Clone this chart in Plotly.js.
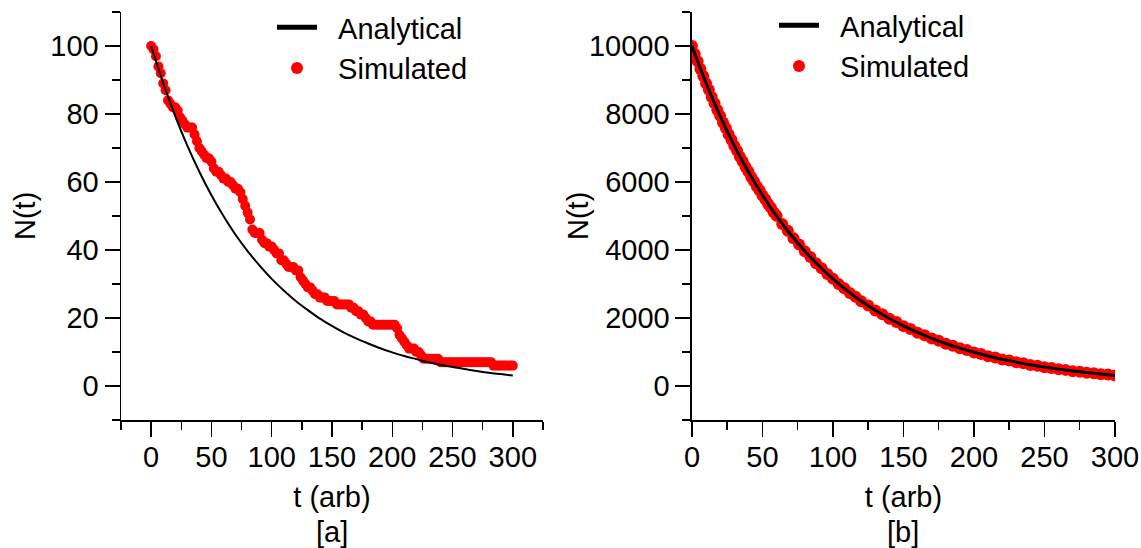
<!DOCTYPE html>
<html>
<head>
<meta charset="utf-8">
<script src="https://cdn.plot.ly/plotly-3.0.1.min.js"></script>
<style>html,body{margin:0;padding:0;background:#fff;}#chart{width:1141px;height:548px;}</style>
</head>
<body>
<div id="chart"></div>
<script>
// ---- Panel [a] data (N0 = 100) ----
var tAnalyticA = [0,10,20,30,40,50,60,70,80,90,100,110,120,130,140,150,160,170,180,190,200,210,220,230,240,250,260,270,280,290,300];
var nAnalyticA = [100,89.1,79.4,70.7,63.0,56.1,50.0,44.5,39.7,35.4,31.5,28.1,25.0,22.3,19.8,17.7,15.7,14.0,12.5,11.1,9.9,8.8,7.9,7.0,6.25,5.6,5.0,4.4,3.9,3.5,3.1];

var tSimA = [0,2,4,6,8,10,12,14,16,18,20,22,24,26,28,30,32,34,36,38,40,42,44,46,48,50,52,54,56,58,
  60,62,64,66,68,70,72,74,76,78,80,82,84,86,88,90,92,94,96,98,100,102,104,106,108,110,112,114,116,118,
  120,122,124,126,128,130,132,134,136,138,140,142,144,146,148,150,152,154,156,158,160,162,164,166,168,170,172,174,176,178,
  180,182,184,186,188,190,192,194,196,198,200,202,204,206,208,210,212,214,216,218,220,222,224,226,228,230,232,234,236,238,
  240,242,244,246,248,250,252,254,256,258,260,262,264,266,268,270,272,274,276,278,280,282,284,286,288,290,292,294,296,298,300];
var nSimA = [100,99,97,94,92,89,87,84,83,82,
  82,81,79,78,77,76,76,76,74,72,
  70,69,68,67,67,66,64,63,63,62,
  61,61,60,60,59,58,58,57,55,53,
  51,49,46,45,45,45,43,42,42,41,
  41,40,39,39,37,37,36,35,35,35,
  34,34,32,31,30,29,29,28,27,27,
  26,26,26,25,25,25,25,24,24,24,
  24,24,24,23,23,22,22,21,21,20,
  19,19,18,18,18,18,18,18,18,18,
  18,18,17,15,14,13,12,11,11,11,
  10,10,9,8,8,8,8,8,8,8,
  7,7,7,7,7,7,7,7,7,7,
  7,7,7,7,7,7,7,7,7,7,
  7,7,6,6,6,6,6,6,6,6,
  6];

// ---- Panel [b] data (N0 = 10000) ----
var tAnalyticB = [0,10,20,30,40,50,60,70,80,90,100,110,120,130,140,150,160,170,180,190,200,210,220,230,240,250,260,270,280,290,300];
var nAnalyticB = [10000,8909,7937,7071,6300,5612,5000,4454,3969,3536,3150,2806,2500,2227,1984,1768,1575,1403,1250,1114,992,884,787,702,625,557,496,442,394,351,312];

var tSimB = [0,2,4,6,8,10,12,14,16,18,20,22,24,26,28,30,32,34,36,38,40,42,44,46,48,50,52,54,56,58,60,
  64,68,72,76,80,84,88,92,96,100,104,108,112,116,120,
  125,130,135,140,145,150,155,160,165,170,175,180,185,190,195,200,205,210,215,220,225,230,235,240,245,250,255,260,265,270,275,280,285,290,295,300];
var nSimB = [10000,9768,9551,9322,9120,8901,8712,8499,8318,8115,7945,7748,7585,7398,7242,7063,6917,6744,6604,6439,6307,6149,6021,5871,5749,5605,5490,5352,5242,5110,5006,
  4767,4565,4346,4162,3962,3795,3611,3461,3292,3156,3001,2878,2736,2624,2494,
  2366,2220,2108,1977,1879,1761,1675,1568,1493,1396,1330,1243,1186,1107,1057,985,942,877,840,781,749,696,668,619,596,551,532,490,474,437,422,389,377,346,336,307];

var FONT = 'Liberation Sans, Arial, sans-serif';
var FS = 29;
var RED = '#ff0000';
var GAP = '\u00A0\u00A0';

var traces = [
  {x: tSimA, y: nSimA, type: 'scatter', mode: 'markers', name: GAP + 'Simulated',
   marker: {color: RED, size: 10}, xaxis: 'x', yaxis: 'y', legend: 'legend', legendrank: 2},
  {x: tAnalyticA, y: nAnalyticA, type: 'scatter', mode: 'lines', name: GAP + 'Analytical',
   line: {color: '#000', width: 2, shape: 'spline'}, xaxis: 'x', yaxis: 'y', legend: 'legend', legendrank: 1},
  {x: tSimB, y: nSimB, type: 'scatter', mode: 'markers', name: GAP + 'Simulated',
   marker: {color: RED, size: 12}, xaxis: 'x2', yaxis: 'y2', legend: 'legend2', legendrank: 2},
  {x: tAnalyticB, y: nAnalyticB, type: 'scatter', mode: 'lines', name: GAP + 'Analytical',
   line: {color: '#000', width: 3, shape: 'spline'}, xaxis: 'x2', yaxis: 'y2', legend: 'legend2', legendrank: 1}
];

function axisBase() {
  return {
    showline: true, linecolor: '#000', linewidth: 1.5,
    ticks: 'outside', ticklen: 15, tickwidth: 1.5, tickcolor: '#000',
    showgrid: false, zeroline: false, automargin: false,
    tickfont: {family: FONT, size: FS, color: '#000'},
    tickformat: 'd',
    fixedrange: true
  };
}
function minorOf(d) {
  return {dtick: d, ticks: 'outside', ticklen: 8, tickwidth: 1.5, tickcolor: '#000', showgrid: false};
}

var xa = Object.assign(axisBase(), {
  domain: [0, 0.4245], range: [-25, 325], tick0: 0, dtick: 50, anchor: 'y', minor: minorOf(25),
  ticklabelstandoff: -4,
  title: {text: 't (arb)', font: {family: FONT, size: FS, color: '#000'}, standoff: 14}
});
var ya = Object.assign(axisBase(), {
  range: [-10, 110], tick0: 0, dtick: 20, anchor: 'x', minor: minorOf(10)
});
var xb = Object.assign(axisBase(), {
  domain: [0.5744, 1], range: [0, 300], tick0: 0, dtick: 50, anchor: 'y2', minor: minorOf(25),
  ticklabelstandoff: -4,
  title: {text: 't (arb)', font: {family: FONT, size: FS, color: '#000'}, standoff: 14}
});
var yb = Object.assign(axisBase(), {
  range: [-1000, 11000], tick0: 0, dtick: 2000, anchor: 'x2', minor: minorOf(1000)
});

var legendBase = {xref: 'container', yref: 'container', xanchor: 'left', yanchor: 'top', bgcolor: 'rgba(0,0,0,0)',
  font: {family: FONT, size: FS, color: '#000'}, itemwidth: 40, itemsizing: 'constant', traceorder: 'normal'};

var layout = {
  width: 1141, height: 548,
  margin: {l: 121, r: 26, t: 12, b: 128, pad: 0, autoexpand: false},
  paper_bgcolor: '#fff', plot_bgcolor: '#fff',
  font: {family: FONT, size: FS, color: '#000'},
  xaxis: xa, yaxis: ya, xaxis2: xb, yaxis2: yb,
  legend: Object.assign({x: 272 / 1141, y: 1 - 2 / 548}, legendBase),
  legend2: Object.assign({x: 774 / 1141, y: 1.008}, legendBase),
  annotations: [
    {text: 'N(t)', xref: 'paper', yref: 'y domain', x: (25 - 121) / 994, y: 0.5, xanchor: 'center', yanchor: 'middle',
     textangle: -90, showarrow: false, font: {family: FONT, size: FS, color: '#000'}},
    {text: 'N(t)', xref: 'paper', yref: 'y2 domain', x: (578 - 121) / 994, y: 0.5, xanchor: 'center', yanchor: 'middle',
     textangle: -90, showarrow: false, font: {family: FONT, size: FS, color: '#000'}},
    {text: '[a]', xref: 'x domain', yref: 'paper', x: 0.5, y: -0.275, xanchor: 'center', yanchor: 'middle',
     showarrow: false, font: {family: FONT, size: FS, color: '#000'}},
    {text: '[b]', xref: 'x2 domain', yref: 'paper', x: 0.5, y: -0.275, xanchor: 'center', yanchor: 'middle',
     showarrow: false, font: {family: FONT, size: FS, color: '#000'}}
  ],
  showlegend: true
};

Plotly.newPlot('chart', traces, layout, {staticPlot: true, displayModeBar: false});
</script>
</body>
</html>
